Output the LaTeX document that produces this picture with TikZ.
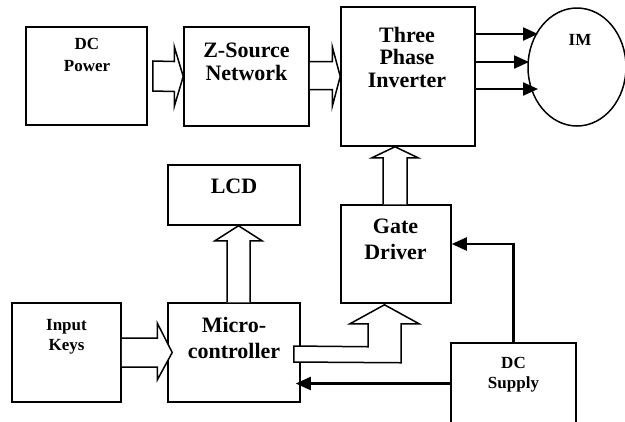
\documentclass[tikz,border=0pt]{standalone}
\usepackage{fontspec}
\setmainfont{Liberation Serif}
\usetikzlibrary{arrows.meta,shapes.geometric,calc}
\begin{document}
\begin{tikzpicture}[x=1bp,y=-1bp,
  box/.style={draw, line width=1.5bp, inner sep=0pt},
  big/.style={font=\fontsize{22bp}{23bp}\selectfont\bfseries, align=center, anchor=base, inner sep=0pt},
  small/.style={font=\fontsize{17bp}{21bp}\selectfont\bfseries, align=center, anchor=base, inner sep=0pt},
  barrow/.style={draw, fill=white, line width=1.5bp, line join=miter},
  wire/.style={draw, line width=2.2bp, -{Triangle[length=15bp,width=13bp]}}]
\clip (0,0) rectangle (625,421);
% boxes
\node[box, minimum width=121bp, minimum height=98bp] (dcp) at (86.5,76) {};
\node[box, minimum width=125bp, minimum height=99bp] (zs) at (246.5,76.5) {};
\node[box, minimum width=134bp, minimum height=139bp] (inv) at (408,76.5) {};
\node[draw, ellipse, line width=1.5bp, inner sep=0pt, minimum width=98bp, minimum height=118bp] (im) at (577,67) {};
\node[box, minimum width=132bp, minimum height=60bp] (lcd) at (234,195) {};
\node[box, minimum width=110bp, minimum height=98bp] (gate) at (396,254) {};
\node[box, minimum width=109bp, minimum height=99bp] (keys) at (66.5,352.5) {};
\node[box, minimum width=132bp, minimum height=99bp] (micro) at (234,352.5) {};
\node[box, minimum width=125bp, minimum height=81bp] (dcs) at (513.5,383.5) {};
% texts (anchor = baseline of last line)
\node[small, font=\fontsize{17bp}{22bp}\selectfont\bfseries] (dcpt) at (87,71) {DC\\Power};
\node[big] (zst) at (246.5,80) {Z-Source\\Network};
\node[big, font=\fontsize{22bp}{22.5bp}\selectfont\bfseries] (invt) at (407,87) {Three\\Phase\\Inverter};
\node[small] (imt) at (580,45) {IM};
\node[big] (lcdt) at (234,193) {LCD};
\node[big, font=\fontsize{22bp}{26bp}\selectfont\bfseries] (gatet) at (395.5,259) {Gate\\Driver};
\node[big, font=\fontsize{22bp}{26bp}\selectfont\bfseries] (microt) at (234,358) {Micro-\\controller};
\node[small, font=\fontsize{17bp}{20bp}\selectfont\bfseries] (keyst) at (66.5,350) {Input\\Keys};
\node[small, font=\fontsize{17bp}{20bp}\selectfont\bfseries] (dcst) at (513.5,388) {DC\\Supply};
% block arrows
\draw[barrow] ($(dcp.east)+(5,-15)$) -- ($(zs.west)+(-9,-15)$) -- ($(zs.west)+(-9,-30)$) -- (zs.west)
  -- ($(zs.west)+(-9,30)$) -- ($(zs.west)+(-9,15)$) -- ($(dcp.east)+(5,15)$) -- cycle;
\draw[barrow] ($(zs.east)+(0,-15)$) -- ($(inv.west)+(-8,-15)$) -- ($(inv.west)+(-8,-30)$) -- (inv.west)
  -- ($(inv.west)+(-8,30)$) -- ($(inv.west)+(-8,13)$) -- ($(zs.east)+(0,13)$);
\coordinate (lcdtip) at ($(lcd.south)+(4.5,0)$);
\draw[barrow] ($(lcdtip|-micro.north)+(-11.5,0)$) -- ($(lcdtip)+(-11.5,15)$) -- ($(lcdtip)+(-23.5,15)$) -- (lcdtip)
  -- ($(lcdtip)+(23.5,15)$) -- ($(lcdtip)+(11.5,15)$) -- ($(lcdtip|-micro.north)+(11.5,0)$);
\coordinate (invtip) at ($(inv.south)+(-13,0)$);
\draw[barrow] ($(invtip|-gate.north)+(-12,0)$) -- ($(invtip)+(-12,11)$) -- ($(invtip)+(-23,11)$) -- (invtip)
  -- ($(invtip)+(23,11)$) -- ($(invtip)+(12,11)$) -- ($(invtip|-gate.north)+(12,0)$);
\coordinate (mictip) at ($(micro.west)+(5,0)$);
\draw[barrow] ($(keys.east)+(0,-14.5)$) -- ($(mictip)+(-15,-14.5)$) -- ($(mictip)+(-15,-29.5)$) -- (mictip)
  -- ($(mictip)+(-15,27.5)$) -- ($(mictip)+(-15,14.5)$) -- ($(keys.east)+(0,14.5)$);
\coordinate (gtip) at ($(gate.south)+(-11.5,1)$);
\draw[barrow] ($(micro.east)+(-7,-6.5)$) -- ($(gtip)+(-16.5,42)$) -- ($(gtip)+(-16.5,19)$) -- ($(gtip)+(-34.5,19)$)
  -- (gtip) -- ($(gtip)+(34.5,19)$) -- ($(gtip)+(16.5,19)$) -- ($(gtip)+(16.5,58)$) -- ($(micro.east)+(-7,9.5)$) -- cycle;
% wires
\draw[wire] (dcs.north) |- ($(gate.east)+(0,-10)$);
\draw[wire] (dcs.west) -- ($(micro.east|-dcs.west)+(-5,0)$);
\coordinate (im1) at (538,34);
\coordinate (im2) at (529,62);
\coordinate (im3) at (538,89);
\draw[wire] (inv.east|-im1) -- (im1);
\draw[wire] (inv.east|-im2) -- (im2);
\draw[wire] (inv.east|-im3) -- (im3);
\end{tikzpicture}
\end{document}
